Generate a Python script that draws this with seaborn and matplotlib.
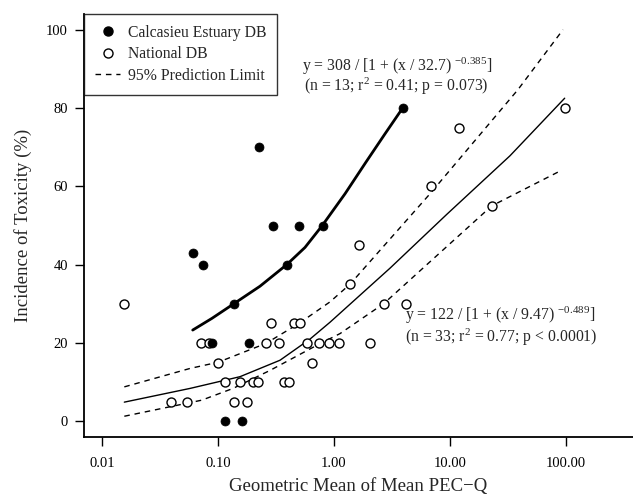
import pandas as pd
import matplotlib
matplotlib.use("Agg")
import matplotlib.pyplot as plt
from matplotlib.lines import Line2D
from matplotlib.ticker import NullLocator
import seaborn as sns

# Calcasieu Estuary database (n = 13)
calc_pecq = [3.917, 0.2253, 0.2992, 0.4986, 0.8035, 0.0603, 0.0736, 0.3906,
             0.1378, 0.0885, 0.1836, 0.1157, 0.1607]
calc_tox = [80, 70, 50, 50, 50, 42.9, 40, 40, 30, 20, 20, 0, 0]

# National database (n = 33)
nat_pecq = [98.0, 12.07, 6.83, 22.97, 1.654, 1.374, 0.01549, 2.70, 4.225,
            0.2842, 0.4543, 0.5057, 0.0707, 0.0834, 0.2584, 0.3372, 0.5813,
            0.7454, 0.9053, 1.109, 2.045, 0.1003, 0.6497, 0.1151, 0.1544,
            0.1999, 0.2208, 0.3716, 0.4114, 0.0394, 0.0542, 0.1357, 0.1768]
nat_tox = [80, 75, 60, 55, 45, 35, 30, 30, 30,
           25, 25, 25, 20, 20, 20, 20, 20,
           20, 20, 20, 20, 15, 15, 10, 10,
           10, 10, 10, 10, 5, 5, 5, 5]

# Fitted curves and 95% prediction limits (x, incidence %)
calc_fit_x = [0.0603, 0.0885, 0.1378, 0.2298, 0.3906, 0.5619, 0.7878,
              1.245, 1.889, 2.755, 3.917]
calc_fit_y = [23.3, 26.3, 30.1, 34.5, 40.0, 44.4, 49.9, 58.1, 66.2, 73.4, 80.0]

nat_fit_x = [0.01549, 0.0571, 0.1544, 0.342, 0.6207, 0.9237, 3.043,
             9.45, 33.05, 98.0]
nat_fit_y = [4.9, 8.4, 11.4, 15.6, 21.0, 25.3, 39.1, 52.9, 67.8, 82.5]

upper_x = [0.01549, 0.0571, 0.1003, 0.2588, 0.4986, 0.9237, 1.374, 6.742,
           38.75, 94.8]
upper_y = [8.8, 13.5, 15.1, 19.9, 25.0, 30.5, 35.0, 58.1, 84.7, 100.0]

lower_x = [0.01549, 0.0721, 0.1343, 0.2803, 0.709, 1.127, 2.70, 22.97, 89.3]
lower_y = [1.3, 5.4, 8.4, 13.0, 19.4, 22.4, 30.1, 55.0, 63.9]

xticks = [0.01, 0.1, 1, 10, 100]
xtick_labels = ["0.01", "0.10", "1.00", "10.00", "100.00"]
yticks = [0, 20, 40, 60, 80, 100]

sns.set_theme(style="ticks")
plt.rcParams["font.family"] = ["Liberation Serif", "DejaVu Serif"]
plt.rcParams["mathtext.fontset"] = "custom"
plt.rcParams["mathtext.rm"] = "Liberation Serif"
plt.rcParams["mathtext.it"] = "Liberation Serif:italic"

fig = plt.figure(figsize=(6.33, 4.97), dpi=100)
ax = fig.add_axes([84 / 633, 1 - 437 / 497, 1 - 84 / 633, (437 - 14) / 497])

calc = pd.DataFrame({"x": calc_pecq, "y": calc_tox})
nat = pd.DataFrame({"x": nat_pecq, "y": nat_tox})

dash = (0, (4, 3.5))
line_kw = dict(estimator=None, sort=False, ax=ax, legend=False)
sns.lineplot(x=upper_x, y=upper_y, color="black", lw=1.0, linestyle=dash, **line_kw)
sns.lineplot(x=lower_x, y=lower_y, color="black", lw=1.0, linestyle=dash, **line_kw)
sns.lineplot(x=nat_fit_x, y=nat_fit_y, color="black", lw=1.0, **line_kw)
sns.lineplot(x=calc_fit_x, y=calc_fit_y, color="black", lw=2.0, **line_kw)

sns.scatterplot(data=nat, x="x", y="y", ax=ax, marker="o", s=42,
                facecolor="white", edgecolor="black", linewidth=1.0, zorder=3)
sns.scatterplot(data=calc, x="x", y="y", ax=ax, marker="o", s=42,
                color="black", edgecolor="black", linewidth=0.5, zorder=4)

ax.set_xscale("log")
ax.set_xlim(10 ** -2.158, 10 ** 2.581)
ax.set_ylim(-4, 104)
ax.set_xticks(xticks)
ax.set_xticklabels(xtick_labels)
ax.set_yticks(yticks)
ax.xaxis.set_minor_locator(NullLocator())
ax.tick_params(axis="both", direction="out", length=6.5, width=1.0,
               labelsize=10.5, colors="black")
ax.tick_params(axis="x", pad=8)
ax.tick_params(axis="y", pad=5)
for s in ("top", "right"):
    ax.spines[s].set_visible(False)
for s in ("left", "bottom"):
    ax.spines[s].set_linewidth(1.3)
    ax.spines[s].set_color("black")

ax.set_xlabel("Geometric Mean of Mean PEC\u2212Q", fontsize=13.5, labelpad=6)
ax.set_ylabel("Incidence of Toxicity (%)", fontsize=13.5, labelpad=10)

eq_size = 11.3
ax.text(0.397, 0.877, r"y = 308 / [1 + (x / 32.7) $^{-0.385}$]",
        transform=ax.transAxes, fontsize=eq_size, ha="left", va="center")
ax.text(0.401, 0.828, r"(n = 13; r$^{2}$ = 0.41; p = 0.073)",
        transform=ax.transAxes, fontsize=eq_size, ha="left", va="center")
ax.text(0.584, 0.288, r"y = 122 / [1 + (x / 9.47) $^{-0.489}$]",
        transform=ax.transAxes, fontsize=eq_size, ha="left", va="center")
ax.text(0.584, 0.236, r"(n = 33; r$^{2}$ = 0.77; p < 0.0001)",
        transform=ax.transAxes, fontsize=eq_size, ha="left", va="center")

handles = [
    Line2D([], [], marker="o", color="black", linestyle="none", markersize=6.5),
    Line2D([], [], marker="o", markerfacecolor="white", markeredgecolor="black",
           linestyle="none", markersize=6.5),
    Line2D([], [], color="black", linestyle=dash, lw=1.0),
]
labels = ["Calcasieu Estuary DB", "National DB", "95% Prediction Limit"]
leg = ax.legend(handles, labels, loc="upper left", bbox_to_anchor=(0, 1),
                borderaxespad=0, frameon=True, fancybox=False, fontsize=11.3,
                handlelength=1.6, handletextpad=0.5, borderpad=0.7,
                labelspacing=0.35)
leg.get_frame().set_edgecolor("black")
leg.get_frame().set_linewidth(1.0)

fig.savefig("out.png", dpi=100)
